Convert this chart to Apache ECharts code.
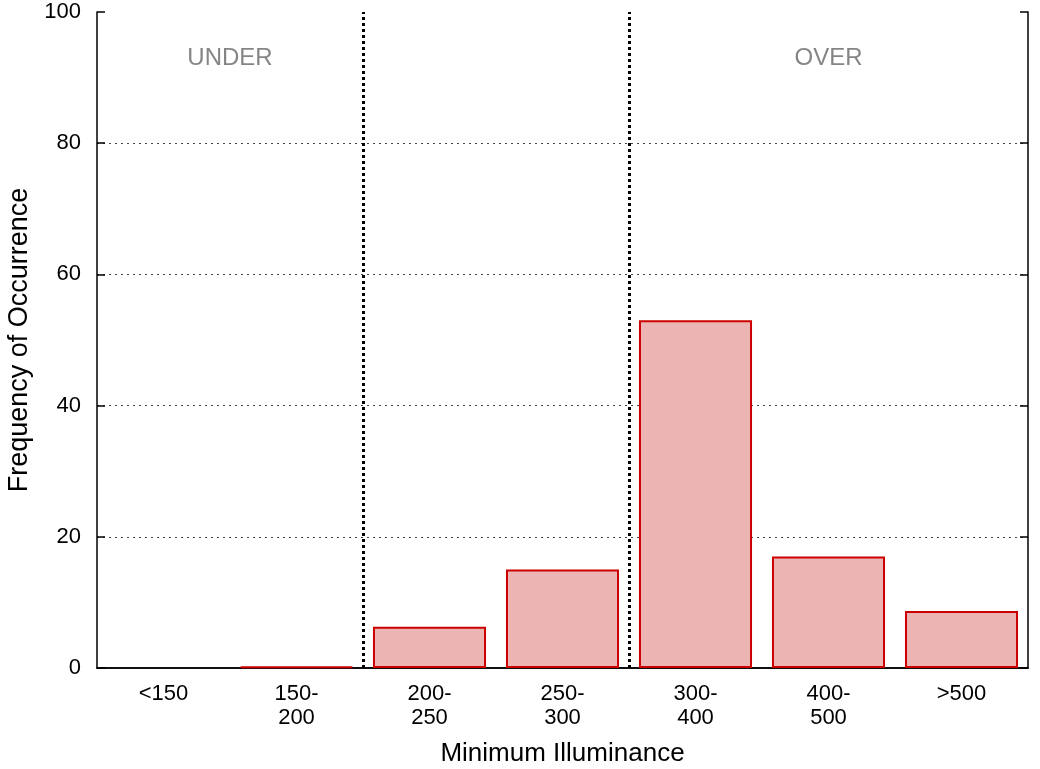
<!DOCTYPE html>
<html>
<head>
<meta charset="utf-8">
<script src="https://cdn.jsdelivr.net/npm/echarts@6/dist/echarts.min.js"></script>
<style>
  html, body { margin: 0; padding: 0; background: #fff; }
  #main { width: 1040px; height: 769px; }
</style>
</head>
<body>
<div id="main"></div>
<script>
// categories and values
let categories = ['<150', '150-\n200', '200-\n250', '250-\n300', '300-\n400', '400-\n500', '>500'];
let frequency = [0, 0.2, 6.3, 15, 53, 17, 8.7];
let yTicks = [0, 20, 40, 60, 80, 100];
// region boundaries (in category widths) and their labels
let boundaries = [2, 4];
let regionNames = ['UNDER', 'OVER'];
let regionX = [1, 5.5];
let regionY = 93;

let font = 'Liberation Sans, Arial, Helvetica, sans-serif';
let chart = echarts.init(document.getElementById('main'));

let option = {
	animation: false,
	backgroundColor: '#fff',
	grid: { left: 97, right: 12, top: 12, bottom: 101, outerBoundsMode: 'none' },
	xAxis: [{
			type: 'category',
			data: categories,
			position: 'bottom',
			name: 'Minimum Illuminance',
			nameLocation: 'middle',
			nameGap: 73,
			nameTextStyle: { fontFamily: font, fontSize: 26, color: '#000' },
			axisLine: { lineStyle: { color: '#000', width: 1.5 } },
			axisTick: { inside: true, alignWithLabel: true, length: 8, lineStyle: { color: '#555', width: 1.5 } },
			axisLabel: { fontFamily: font, fontSize: 22, color: '#000', margin: 14, lineHeight: 24, interval: 0 },
			splitLine: { show: false }
		},
		{
			type: 'category',
			data: categories,
			position: 'top',
			axisLine: { lineStyle: { color: '#000', width: 1.5 } },
			axisTick: { inside: true, alignWithLabel: true, length: 8, lineStyle: { color: '#555', width: 1.5 } },
			axisLabel: { show: false },
			splitLine: { show: false }
		},
		{
			// hidden helper axis for the region lines and labels
			type: 'value',
			min: 0,
			max: categories.length,
			show: false
		}
	],
	yAxis: [{
			type: 'value',
			min: yTicks[0],
			max: yTicks[yTicks.length - 1],
			interval: 20,
			position: 'left',
			name: 'Frequency of Occurrence',
			nameLocation: 'middle',
			nameGap: 62,
			nameTextStyle: { fontFamily: font, fontSize: 27, color: '#000' },
			axisLine: { show: true, lineStyle: { color: '#000', width: 1.5 } },
			axisTick: { show: true, inside: true, length: 8, lineStyle: { color: '#000', width: 1.5 } },
			axisLabel: { fontFamily: font, fontSize: 22, color: '#000', margin: 16 },
			splitLine: {
				show: true,
				showMinLine: false,
				showMaxLine: false,
				lineStyle: { color: '#444', type: [2, 4], width: 1 }
			}
		},
		{
			type: 'value',
			min: yTicks[0],
			max: yTicks[yTicks.length - 1],
			interval: 20,
			position: 'right',
			axisLine: { show: true, lineStyle: { color: '#000', width: 1.5 } },
			axisTick: { show: true, inside: true, length: 8, lineStyle: { color: '#000', width: 1.5 } },
			axisLabel: { show: false },
			splitLine: { show: false }
		}
	],
	series: [{
			type: 'bar',
			xAxisIndex: 0,
			yAxisIndex: 0,
			// empty bins draw nothing
			data: frequency.map(v => (v === 0 ? '-' : v)),
			barWidth: '85%',
			itemStyle: { color: '#edb4b4', borderColor: '#cc0000', borderWidth: 2 },
			z: 3
		},
		{
			type: 'scatter',
			xAxisIndex: 2,
			yAxisIndex: 0,
			symbolSize: 0,
			data: regionX.map((x, i) => ({ value: [x, regionY], name: regionNames[i] })),
			label: {
				show: true,
				position: 'inside',
				formatter: p => p.name,
				fontFamily: font,
				fontSize: 24,
				color: '#666'
			},
			markLine: {
				silent: true,
				symbol: 'none',
				label: { show: false },
				lineStyle: { color: '#000', type: [3, 3], width: 3 },
				data: boundaries.map(b => ({ xAxis: b }))
			},
			z: 5
		}
	]
};
chart.setOption(option);
</script>
</body>
</html>
